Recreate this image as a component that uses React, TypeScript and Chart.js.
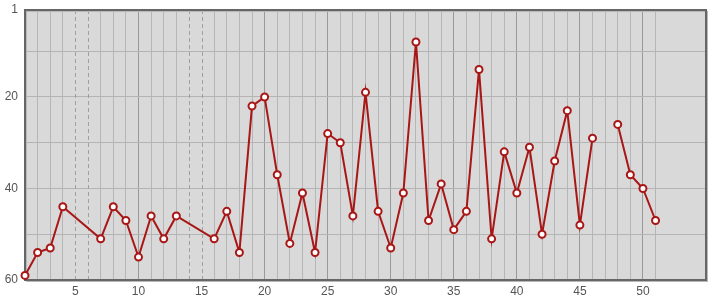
import React, { useEffect, useRef } from "react";
import { Chart, registerables } from "chart.js";
Chart.register(...registerables);

const xValues = [1, 2, 3, 4, 7, 8, 9, 10, 11, 12, 13, 16, 17, 18, 19, 20, 21, 22, 23, 24, 25, 26, 27, 28, 29, 30, 31, 32, 33, 34, 35, 36, 37, 38, 39, 40, 41, 42, 43, 44, 45, 46, 47, 48, 49, 50, 51];
const yValues: (number | null)[] = [59, 54, 53, 44, 51, 44, 47, 55, 46, 51, 46, 51, 45, 54, 22, 20, 37, 52, 41, 54, 28, 30, 46, 19, 45, 53, 41, 8, 47, 39, 49, 45, 14, 51, 32, 41, 31, 50, 34, 23, 48, 29, null, 26, 37, 40, 47];
const yTickLabels = [1, 20, 40, 60];
const yGridValues = [1, 10, 20, 30, 40, 50, 60];
const xTickLabels = [5, 10, 15, 20, 25, 30, 35, 40, 45, 50];
const xGridMax = 51;
const dashedX = [5, 6, 14, 15];

const plotPlugin = {
  id: "plotDecor",
  beforeDraw(chart: any) {
    const { ctx, chartArea: a } = chart;
    ctx.save();
    ctx.fillStyle = "#d9d9d9";
    ctx.fillRect(a.left, a.top, a.right - a.left, a.bottom - a.top);
    ctx.restore();
  },
  beforeDatasetsDraw(chart: any) {
    const { ctx, chartArea: a } = chart;
    const xs = chart.scales.x;
    ctx.save();
    ctx.strokeStyle = "#a0a0a0";
    ctx.lineWidth = 1;
    ctx.setLineDash([4, 3]);
    dashedX.forEach((v) => {
      const px = Math.round(xs.getPixelForValue(v)) + 0.5;
      ctx.beginPath();
      ctx.moveTo(px, a.top);
      ctx.lineTo(px, a.bottom);
      ctx.stroke();
    });
    ctx.setLineDash([]);
    ctx.strokeStyle = "#b8b8b8";
    ctx.lineWidth = 1;
    ctx.strokeRect(a.left + 1.5, a.top + 1.5, a.right - a.left, a.bottom - a.top);
    ctx.strokeStyle = "#666666";
    ctx.lineWidth = 2;
    ctx.strokeRect(a.left, a.top, a.right - a.left, a.bottom - a.top);
    ctx.restore();
  },
};

export default function App() {
  const ref = useRef<HTMLCanvasElement>(null);
  useEffect(() => {
    if (!ref.current) return;
    const chart = new Chart(ref.current, {
      type: "line",
      data: {
        datasets: [
          {
            data: xValues.map((x, i) => ({ x, y: yValues[i] })) as any,
            borderColor: "#a81616",
            borderWidth: 2,
            pointRadius: 3.5,
            pointBorderWidth: 2,
            pointBackgroundColor: "#ffffff",
            pointBorderColor: "#a81616",
            spanGaps: false,
            clip: false as any,
            tension: 0,
          },
        ],
      },
      options: {
        responsive: false,
        animation: false,
        layout: { padding: { top: 10, right: 9, left: 0, bottom: 0 } },
        plugins: { legend: { display: false }, tooltip: { enabled: false } },
        scales: {
          x: {
            type: "linear",
            min: 1,
            max: 55,
            afterFit: (s: any) => {
              s.height = 20;
              s.paddingLeft = 0;
              s.paddingRight = 0;
            },
            afterBuildTicks: (s: any) => {
              const t = [];
              for (let v = 1; v <= 55; v++) t.push({ value: v });
              s.ticks = t;
            },
            border: { display: false },
            grid: {
              drawTicks: false,
              color: (c: any) => {
                const v = c.tick?.value;
                if (v === undefined || v > xGridMax || v === 1 || dashedX.includes(v)) return "rgba(0,0,0,0)";
                return v % 5 === 0 ? "#9a9a9a" : "#b6b6b6";
              },
              lineWidth: 1,
            },
            ticks: {
              autoSkip: false,
              maxRotation: 0,
              padding: 4,
              color: "#555555",
              font: { family: "Liberation Sans", size: 12 },
              callback: (v: any) => (xTickLabels.includes(v) ? String(v) : ""),
            },
          },
          y: {
            type: "linear",
            reverse: true,
            min: 1,
            max: 60,
            afterFit: (s: any) => {
              s.width = 25;
              s.paddingTop = 0;
              s.paddingBottom = 0;
            },
            afterBuildTicks: (s: any) => {
              s.ticks = yGridValues.map((v) => ({ value: v }));
            },
            border: { display: false },
            grid: {
              drawTicks: false,
              color: (c: any) => {
                const v = c.tick?.value;
                if (v === 1 || v === 60) return "rgba(0,0,0,0)";
                return "#b4b4b4";
              },
            },
            ticks: {
              autoSkip: false,
              padding: 7,
              color: "#555555",
              font: { family: "Liberation Sans", size: 12 },
              callback: (v: any) => (yTickLabels.includes(v) ? String(v) : ""),
            },
          },
        },
      },
      plugins: [plotPlugin],
    });
    return () => chart.destroy();
  }, []);
  return (
    <div style={{ position: "absolute", left: 0, top: 0, width: 715, height: 300 }}>
      <canvas ref={ref} width={715} height={300} style={{ display: "block" }} />
    </div>
  );
}
